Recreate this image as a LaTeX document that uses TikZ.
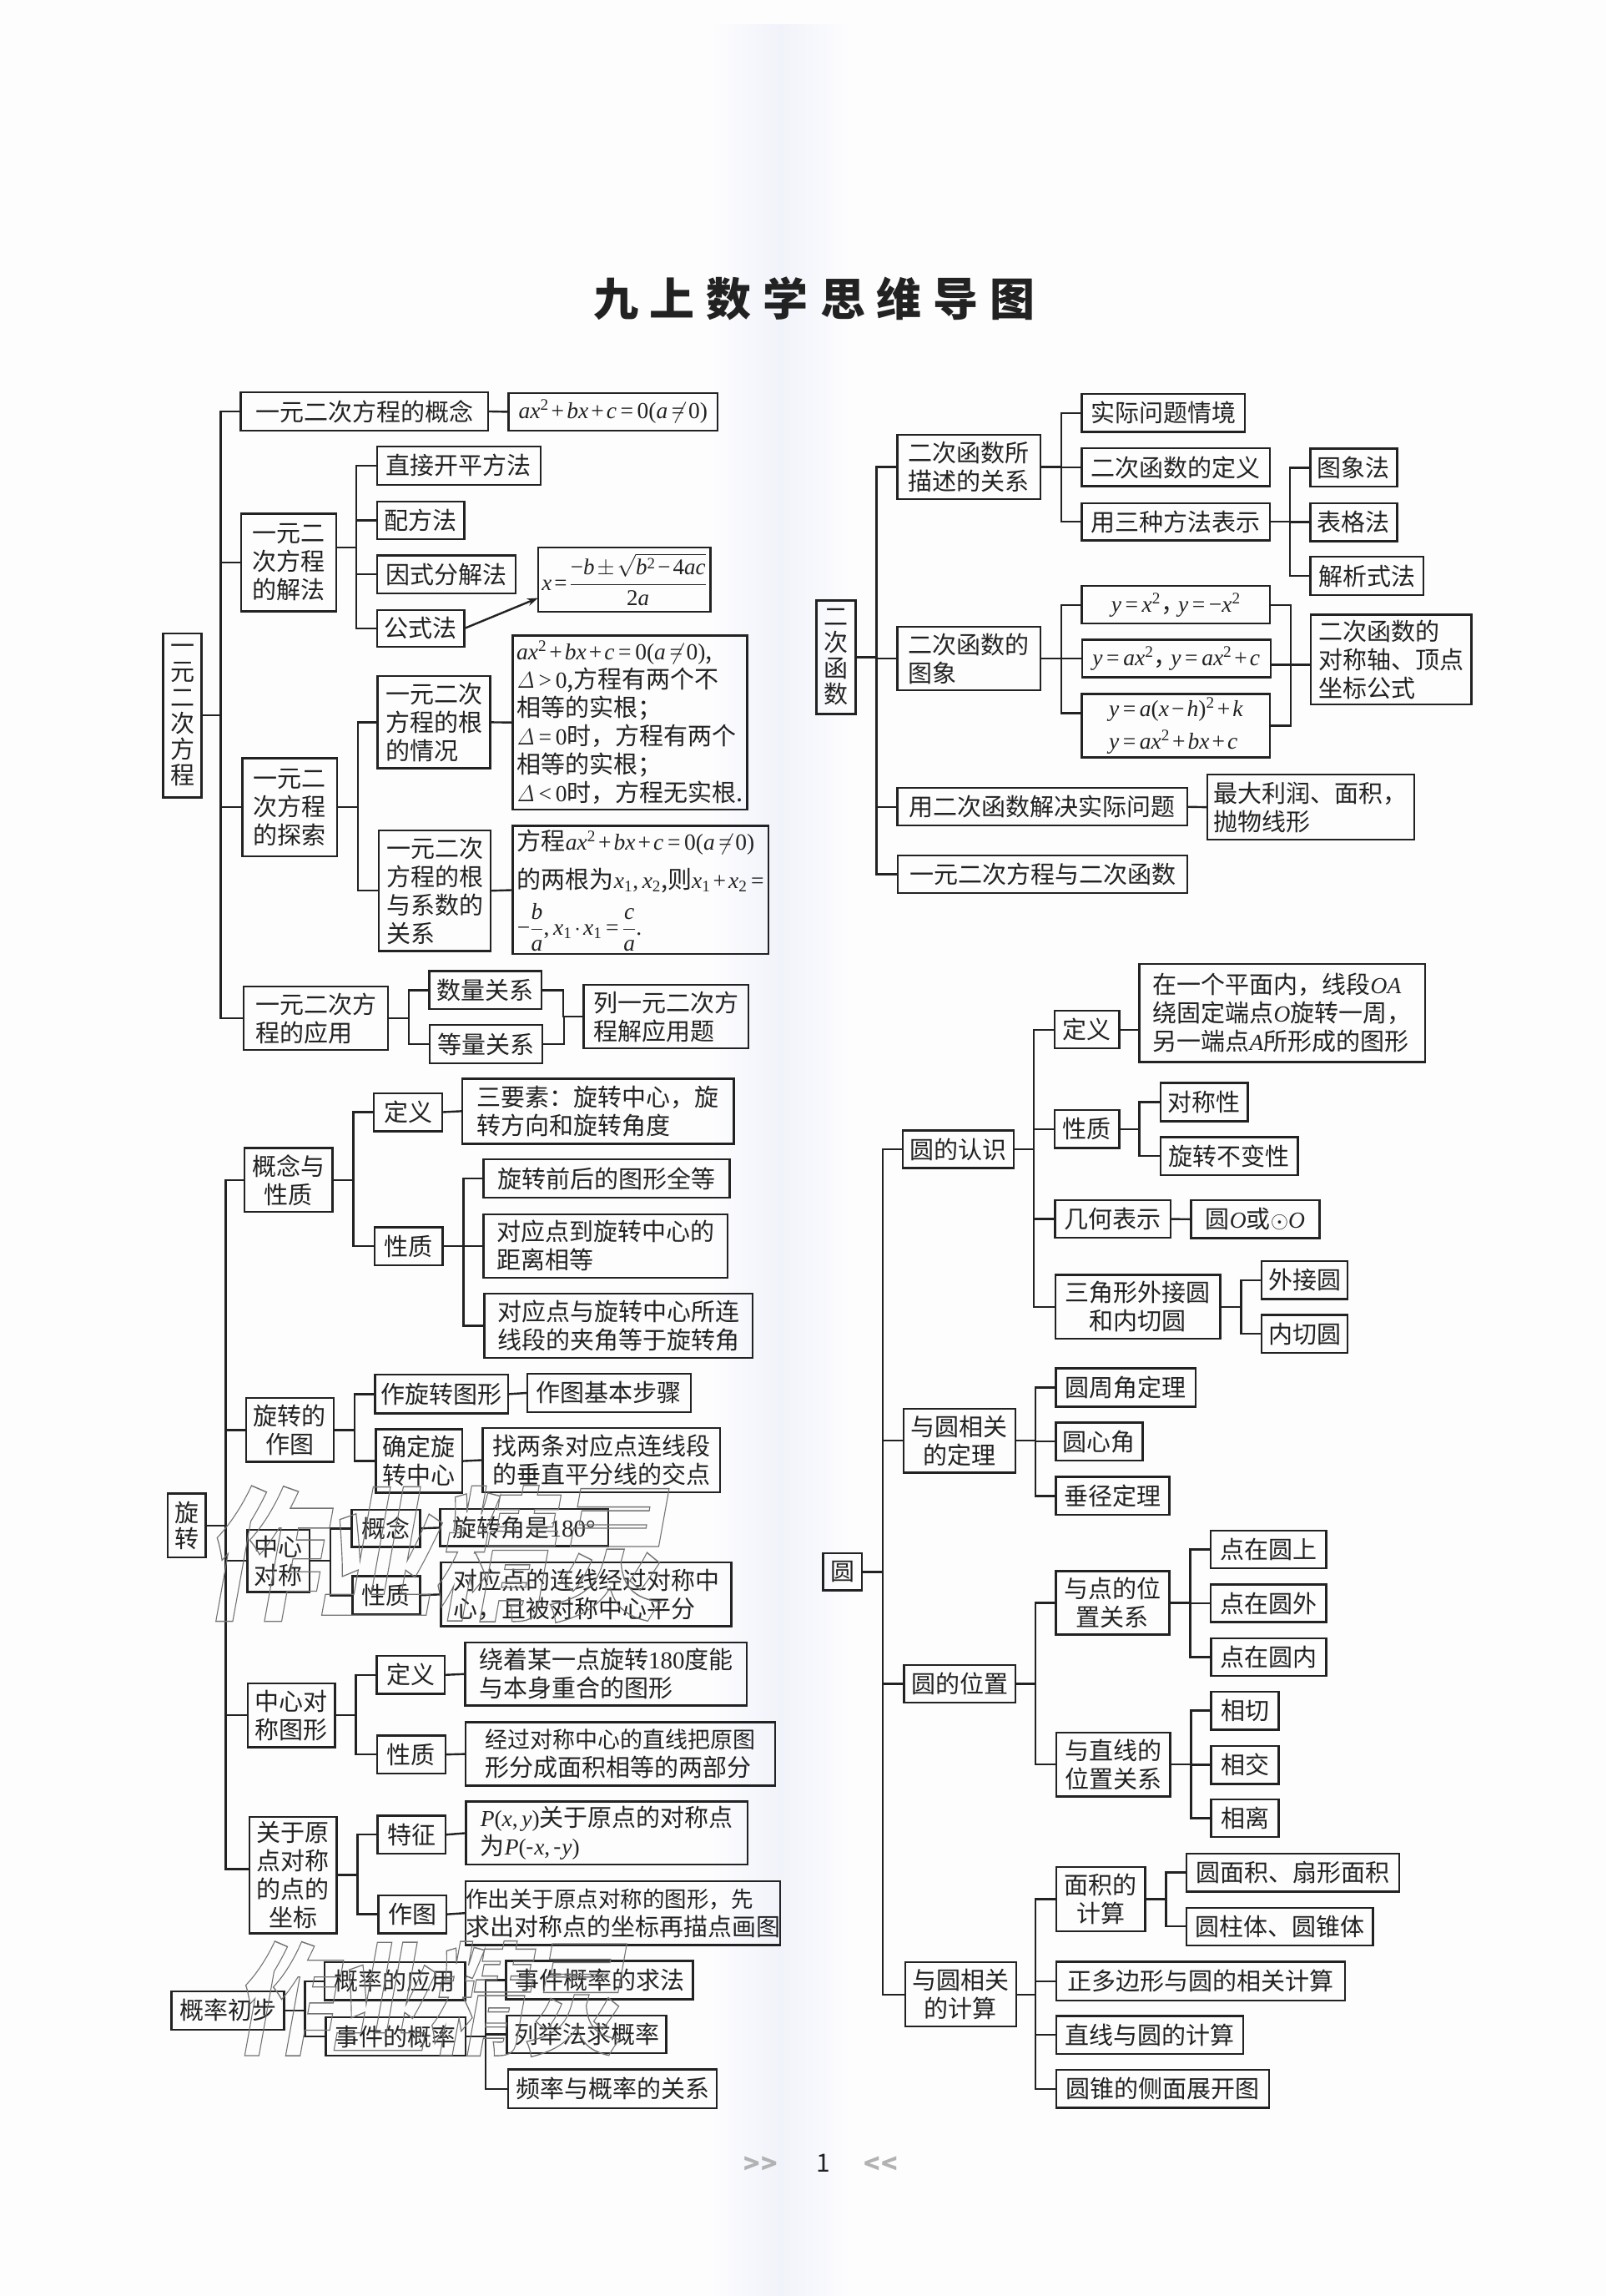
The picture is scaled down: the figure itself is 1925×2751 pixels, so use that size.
\documentclass[tikz,border=0pt]{standalone}
\usepackage{fix-cm}
\usepackage{amsmath}
\usepackage[no-math]{fontspec}
\setmainfont{Noto Sans CJK SC}
\newfontfamily\latn[NFSSFamily=tms]{Liberation Serif}
\DeclareSymbolFont{tmit}{TU}{tms}{m}{it}
\DeclareSymbolFont{tmrm}{TU}{tms}{m}{n}
\makeatletter
\@tfor\zc:=abchkxyOAP\do{\expandafter\Umathcode\expandafter`\zc="7 \symtmit \expandafter`\zc\relax}
\@tfor\zc:=0123456789\do{\expandafter\Umathcode\expandafter`\zc="7 \symtmrm \expandafter`\zc\relax}
\makeatother
\Umathcode`+="2 \symtmrm `+
\Umathcode`="3 \symtmrm `=
\Umathcode`(="4 \symtmrm `(
\Umathcode`)="5 \symtmrm `)
\Umathcode`-="2 \symtmrm "2212
\Umathcode`,="6 \symtmrm `,
\Umathcode`.="6 \symtmrm `.
\Umathcode`<="3 \symtmrm `<
\Umathcode`>="3 \symtmrm `>
\usetikzlibrary{arrows.meta,positioning,calc}
\definecolor{ink}{HTML}{222222}
\definecolor{paper}{HTML}{FDFDFE}
\definecolor{stripe}{HTML}{F1F3FA}
\newcommand\setz[4]{\def\zx{#1}\def\zy{#2}\def\zfx{#3}\def\zfy{#4}}
\newcommand\bx[7][]{\node[bx,#1,minimum width={(#5-#3)/\zfx*1pt},minimum height={(#6-#4)/\zfy*1pt}] (#2) at ({\zx+(#3+#5)/2/\zfx},{\zy+(#4+#6)/2/\zfy}) {#7};}
\newcommand\tree[3]{\foreach \c in {#3}{\draw[ln] #1 -- ++(#2,0) |- (\c.west);}}
\newcommand\mth[1]{{\fontsize{27.5}{34}\selectfont$\medmuskip=2mu\thickmuskip=3mu #1$}}
\newcommand\dl{\mathit{\Delta}}
\newcommand\fzs{\fontsize{27}{34}\selectfont}
\newcommand\olstart{\special{pdf:code 1 Tr 1.4 w 0.45 G}}
\newcommand\olend{\special{pdf:code 0 Tr}}
\tikzset{
 bx/.style={draw=ink,line width=2.4pt,inner sep=0pt,outer sep=0pt,text=ink,align=left,font=\fontsize{29}{34}\selectfont},
 cx/.style={align=center},
 vx/.style={align=center,font=\fontsize{29}{31}\selectfont},
 ln/.style={draw=ink,line width=2.4pt},
 wm/.style={inner sep=0pt,xslant=0.18,xscale=0.8},
 chev/.style={text=black!30,font=\fontsize{32}{34}\bfseries\selectfont},
}
\begin{document}
\begin{tikzpicture}[x=1pt,y=-1pt]
\fill[paper] (0,0) rectangle (1925,2751);
\useasboundingbox (0,0) rectangle (1925,2751);
\shade[left color=paper,right color=stripe] (850,30) rectangle (935,2751);
\shade[left color=stripe,right color=paper] (935,30) rectangle (1020,2751);
\node[text=ink,font=\fontsize{54}{60}\bfseries\selectfont] (title) at (976,358) {九\hspace{14pt}上\hspace{14pt}数\hspace{14pt}学\hspace{14pt}思\hspace{14pt}维\hspace{14pt}导\hspace{14pt}图};

% --- section A
\setz{180}{440}{2.063}{1.823}
\bx[vx]{ra}{32}{581}{127}{940}{一\\元\\二\\次\\方\\程}
\bx{a1}{224}{55}{836}{138}{一元二次方程的概念}
\bx{a1f}{886}{56}{1403}{139}{\mth{ax^2+bx+c=0(a\neq 0)}}
\bx{a2}{225}{320}{460}{533}{一元二\\次方程\\的解法}
\bx{b1}{561}{173}{965}{257}{直接开平方法}
\bx{b2}{561}{293}{777}{376}{配方法}
\bx{b3}{561}{411}{903}{494}{因式分解法}
\bx{b4}{561}{530}{777}{611}{公式法}
\bx{bf}{959}{394}{1385}{534}{{\fontsize{27}{30}\selectfont$\thickmuskip=2mu\medmuskip=2mu x=\dfrac{-b\pm\sqrt{b^2-4ac}}{2a}$}}
\bx{a3}{228}{854}{462}{1068}{一元二\\次方程\\的探索}
\bx{c1}{562}{675}{841}{876}{一元二次\\方程的根\\的情况}
\bx{c1t}{896}{586}{1476}{966}{\mth{ax^2+bx+c=0(a\neq 0)},\\\mth{\dl>0},方程有两个不\\相等的实根；\\\mth{\dl=0}时，方程有两个\\相等的实根；\\\mth{\dl<0}时，方程无实根.}
\bx{c2}{565}{1012}{842}{1275}{一元二次\\方程的根\\与系数的\\关系}
\bx{c2t}{896}{1002}{1529}{1282}{方程\mth{ax^2+bx+c=0(a\neq 0)}\\[12pt]的两根为\mth{x_1,x_2},则\mth{x_1+x_2=}\\[12pt]\mth{-\dfrac{b}{a},x_1\cdot x_1=\dfrac{c}{a}.}}
\bx{a4}{231}{1353}{588}{1491}{一元二次方\\程的应用}
\bx{d1}{690}{1319}{968}{1402}{数量关系}
\bx{d2}{691}{1437}{969}{1520}{等量关系}
\bx{d3}{1072}{1349}{1479}{1488}{列一元二次方\\程解应用题}

% --- section B
\setz{180}{1270}{2.063}{2.063}
\bx[vx]{rb}{43}{1072}{137}{1230}{旋\\转}
\bx[cx]{e1}{233}{218}{451}{376}{概念与\\性质}
\bx{f1}{553}{82}{722}{176}{定义}
\bx{f1t}{771}{46}{1443}{207}{三要素：旋转中心，旋\\转方向和旋转角度}
\bx{f2}{555}{414}{723}{507}{性质}
\bx{g1}{824}{246}{1433}{340}{旋转前后的图形全等}
\bx{g2}{824}{381}{1427}{538}{对应点到旋转中心的\\距离相等}
\bx{g3}{826}{578}{1489}{736}{对应点与旋转中心所连\\线段的夹角等于旋转角}
\bx[cx]{e2}{237}{836}{454}{993}{旋转的\\作图}
\bx{h1}{556}{778}{885}{874}{作旋转图形}
\bx{h1t}{932}{776}{1337}{870}{作图基本步骤}
\bx[cx]{h2}{558}{913}{772}{1070}{确定旋\\转中心}
\bx{h2t}{822}{910}{1409}{1068}{找两条对应点连线段\\的垂直平分线的交点}
\bx[cx]{e3}{240}{1161}{394}{1315}{中心\\对称}
\bx{i1}{498}{1112}{667}{1204}{概念}
\bx{i1t}{717}{1110}{1132}{1202}{旋转角是{\latn 180°}}
\bx{i2}{500}{1276}{667}{1370}{性质}
\bx{i2t}{719}{1242}{1437}{1400}{对应点的连线经过对称中\\心，且被对称中心平分}

% --- section C
\setz{180}{1950}{2.063}{2.306}
\bx[cx]{e4}{241}{154}{457}{331}{中心对\\称图形}
\bx{j1}{560}{79}{728}{183}{定义}
\bx{j1t}{779}{41}{1475}{216}{绕着某一点旋转{\latn 180}度能\\与本身重合的图形}
\bx{j2}{561}{299}{730}{403}{性质}
\bx{j2t}{780}{262}{1545}{437}{\fzs 经过对称中心的直线把原图\\形分成面积相等的两部分}
\bx[cx]{e5}{246}{523}{461}{845}{关于原\\点对称\\的点的\\坐标}
\bx{k1}{562}{520}{730}{625}{特征}
\bx{k1t}{781}{481}{1477}{655}{\mth{P(x,y)}关于原点的对称点\\为\mth{P(\text{-}x,\text{-}y)}}
\bx{k2}{564}{740}{732}{845}{作图}
\bx{k2t}{783}{701}{1555}{877}{\fontsize{26.5}{34}\selectfont 作出关于原点对称的图形，先\\求出对称点的坐标再描点画图}
\bx{rc}{53}{1005}{331}{1111}{概率初步}
\bx{l1}{431}{924}{779}{1030}{概率的应用}
\bx{l2}{434}{1077}{780}{1183}{事件的概率}
\bx{m1}{880}{921}{1342}{1027}{事件概率的求法}
\bx{m2}{882}{1072}{1276}{1176}{列举法求概率}
\bx{m3}{885}{1221}{1401}{1328}{频率与概率的关系}

% --- section D
\setz{960}{440}{1.912}{2.376}
\bx[vx]{rd}{35}{664}{125}{987}{二\\次\\函\\数}
\bx{n1}{221}{192}{549}{376}{二次函数所\\描述的关系}
\bx{o1}{643}{76}{1017}{184}{实际问题情境}
\bx{o2}{643}{231}{1075}{339}{二次函数的定义}
\bx{o3}{643}{387}{1075}{493}{用三种方法表示}
\bx{p1}{1167}{232}{1366}{340}{图象法}
\bx{p2}{1167}{387}{1366}{495}{表格法}
\bx{p3}{1167}{540}{1426}{649}{解析式法}
\bx{n2}{221}{739}{549}{920}{二次函数的\\图象}
\bx{q1}{643}{623}{1075}{730}{\mth{y=x^2}，\hspace{-8pt}\mth{y=-x^2}}
\bx{q2}{644}{776}{1076}{883}{\mth{y=ax^2}，\hspace{-8pt}\mth{y=ax^2+c}}
\bx{q3}{643}{930}{1075}{1111}{\mth{y=a(x-h)^2+k}\\[5pt]\mth{y=ax^2+bx+c}}
\bx{qt}{1168}{704}{1536}{960}{二次函数的\\对称轴、顶点\\坐标公式}
\bx{n3}{221}{1198}{885}{1305}{用二次函数解决实际问题}
\bx{n3t}{931}{1160}{1405}{1345}{最大利润、面积，\\抛物线形}
\bx{n4}{222}{1390}{885}{1497}{一元二次方程与二次函数}

% --- section E
\setz{960}{1130}{2.01}{2.178}
\bx{s1}{245}{489}{513}{587}{圆的认识}
\bx{t1}{611}{177}{767}{275}{定义}
\bx{t1t}{815}{55}{1503}{310}{在一个平面内，线段\mth{OA}\\绕固定端点\mth{O}旋转一周，\\另一端点\mth{A}所形成的图形}
\bx{t2}{611}{436}{767}{535}{性质}
\bx{u1}{866}{365}{1076}{465}{对称性}
\bx{u2}{866}{506}{1197}{606}{旋转不变性}
\bx{t3}{612}{671}{890}{769}{几何表示}
\bx{t3t}{940}{671}{1249}{770}{圆\mth{O}或\mth{\odot O}}
\bx[cx]{t4}{613}{866}{1010}{1032}{三角形外接圆\\和内切圆}
\bx{v1}{1110}{830}{1317}{929}{外接圆}
\bx{v2}{1110}{970}{1317}{1069}{内切圆}
\bx[cx]{s2}{247}{1215}{516}{1382}{与圆相关\\的定理}
\bx{w1}{614}{1110}{951}{1210}{圆周角定理}
\bx{w2}{614}{1251}{823}{1350}{圆心角}
\bx{w3}{614}{1393}{887}{1492}{垂径定理}

% --- section F
\setz{960}{1800}{2.01}{2.063}
\bx{re}{53}{126}{147}{218}{圆}
\bx{s3}{248}{402}{517}{495}{圆的位置}
\bx[cx]{x1}{614}{170}{887}{327}{与点的位\\置关系}
\bx{y1}{987}{70}{1265}{163}{点在圆上}
\bx{y2}{987}{203}{1265}{296}{点在圆外}
\bx{y3}{988}{336}{1265}{429}{点在圆内}
\bx[cx]{x2}{615}{569}{889}{727}{与直线的\\位置关系}
\bx{z1}{988}{468}{1151}{562}{相切}
\bx{z2}{988}{602}{1151}{696}{相交}
\bx{z3}{988}{734}{1151}{827}{相离}
\bx[cx]{s4}{251}{1137}{518}{1296}{与圆相关\\的计算}
\bx[cx]{aa}{615}{902}{829}{1060}{面积的\\计算}
\bx{ab1}{929}{868}{1441}{962}{圆面积、扇形面积}
\bx{ab2}{929}{1002}{1378}{1095}{圆柱体、圆锥体}
\bx{ac}{615}{1136}{1311}{1231}{正多边形与圆的相关计算}
\bx{ad}{615}{1270}{1065}{1363}{直线与圆的计算}
\bx{ae}{615}{1403}{1127}{1497}{圆锥的侧面展开图}

\node[text=ink,font=\fontsize{30}{34}\selectfont] (pg) at (987,2592) {1};
\node[chev] (pl) at (912,2594) {>\kern2pt>};
\node[chev] (pr) at (1056,2594) {<\kern2pt<};

% --- connectors A
\tree{(ra.east)}{23}{a1,a2,a3,a4}
\draw[ln] (a1.east) -- (a1f.west);
\tree{([yshift=18pt]a2.east)}{24}{b1,b2,b3,b4}
\draw[ln,-{Stealth[length=13pt,width=9pt]}] (b4.east) -- ([yshift=-22pt]bf.west);
\tree{(a3.east)}{25}{c1,c2}
\draw[ln] (c1.east) -- (c1t.west);
\draw[ln] (c2.east) -- (c2t.west);
\tree{(a4.east)}{25}{d1,d2}
\draw[ln] (d1.east) -- ++(26,0) |- (d3.west);
\draw[ln] (d2.east) -- ++(26,0) |- (d3.west);
% --- connectors B/C
\tree{(rb.east)}{24}{e1,e2,e3,e4}
\draw[ln] (rb.east) -- ++(24,0) |- ([yshift=7pt]e5.west);
\tree{(e1.east)}{25}{f1,f2}
\draw[ln] (f1.east) -- (f1t.west);
\tree{(f2.east)}{25}{g1,g2,g3}
\tree{(e2.east)}{25}{h1,h2}
\draw[ln] (h1.east) -- (h1t.west);
\draw[ln] (h2.east) -- (h2t.west);
\tree{(e3.east)}{25}{i1,i2}
\draw[ln] (i1.east) -- (i1t.west);
\draw[ln] (i2.east) -- (i2t.west);
\tree{(e4.east)}{25}{j1,j2}
\draw[ln] (j1.east) -- (j1t.west);
\draw[ln] (j2.east) -- (j2t.west);
\tree{(e5.east)}{25}{k1,k2}
\draw[ln] (k1.east) -- (k1t.west);
\draw[ln] (k2.east) -- (k2t.west);
\tree{(rc.east)}{25}{l1,l2}
\tree{(l2.east)}{24}{m1,m2,m3}
% --- connectors D
\tree{(rd.east)}{25}{n1,n2,n3,n4}
\tree{(n1.east)}{25}{o1,o2,o3}
\tree{(o3.east)}{24}{p1,p2,p3}
\tree{(n2.east)}{25}{q1,q2}
\draw[ln] (n2.east) -- ++(25,0) |- ([yshift=15pt]q3.west);
\coordinate (qj) at ([yshift=-7.5pt]q2.east);
\coordinate (qtr) at ([xshift=24pt]q2.east);
\draw[ln] (qj) -- (qj -| qt.west);
\draw[ln] (q1.east) -| (qtr) |- (q3.east);
\draw[ln] (n3.east) -- (n3t.west);
% --- connectors E/F
\tree{(re.east)}{25}{s1,s2,s3,s4}
\tree{(s1.east)}{24}{t1,t2,t3,t4}
\draw[ln] (t1.east) -- (t1.east -| t1t.west);
\tree{(t2.east)}{24}{u1,u2}
\draw[ln] (t3.east) -- (t3t.west);
\tree{(t4.east)}{25}{v1,v2}
\tree{(s2.east)}{24}{w1,w2,w3}
\tree{(s3.east)}{24}{x1,x2}
\tree{(x1.east)}{25}{y1,y2,y3}
\tree{(x2.east)}{25}{z1,z2,z3}
\tree{(s4.east)}{23}{aa,ac,ad,ae}
\tree{(aa.east)}{25}{ab1,ab2}

% --- watermark
\node[wm,font=\fontsize{172}{180}\bfseries\selectfont] (wm1) at (530,1862) {\olstart 作业精灵\olend};
\node[wm,font=\fontsize{145}{150}\bfseries\selectfont] (wm2) at (522,2395) {\olstart 作业精灵\olend};
\end{tikzpicture}
\end{document}
